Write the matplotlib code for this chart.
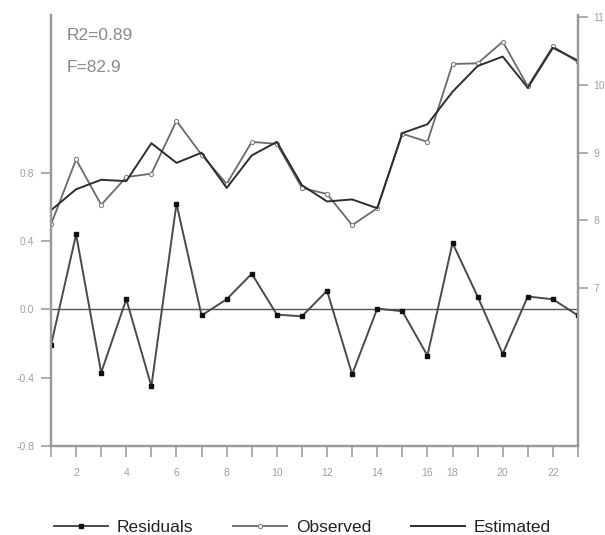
import numpy as np
import matplotlib
matplotlib.use('Agg')
import matplotlib.pyplot as plt

plt.rcParams['font.family'] = ['Liberation Sans', 'DejaVu Sans']

# observation numbers (17 is missing in the source)
obs_no = [1, 2, 3, 4, 5, 6, 7, 8, 9, 10, 11, 12, 13, 14, 15, 16, 18, 19, 20, 21, 22, 23]
residuals = [-0.21, 0.44, -0.37, 0.06, -0.45, 0.62, -0.035, 0.06, 0.21, -0.03, -0.04,
             0.11, -0.38, 0.005, -0.01, -0.27, 0.39, 0.076, -0.26, 0.076, 0.06, -0.035]
observed = [7.94, 8.90, 8.23, 8.64, 8.69, 9.47, 8.97, 8.54, 9.16, 9.13, 8.48,
            8.39, 7.93, 8.18, 9.28, 9.16, 10.31, 10.32, 10.64, 9.98, 10.57, 10.34]
estimated = [8.15, 8.46, 8.60, 8.58, 9.14, 8.85, 9.00, 8.48, 8.96, 9.16, 8.52,
             8.28, 8.31, 8.18, 9.29, 9.42, 9.90, 10.28, 10.42, 9.96, 10.55, 10.36]
left_ticks = [-0.8, -0.4, 0.0, 0.4, 0.8]
right_ticks = [7, 8, 9, 10, 11]
stats_text = ['R2=0.89', 'F=82.9']

spine_c = '#9a9a9a'
tick_c = '#a0a0a0'


def main():
    x = np.arange(len(obs_no))
    fig = plt.figure(figsize=(6.05, 5.35), dpi=100)
    ax = fig.add_axes([51 / 605, 1 - 446 / 535, (578 - 51) / 605, (446 - 15) / 535])
    ax2 = ax.twinx()

    # residuals on left axis
    ax.axhline(0, color='#555555', lw=1.0, zorder=1)
    l_res, = ax.plot(x, residuals, color='#4a4a4a', lw=1.4, marker='s', ms=2.6,
                     mfc='#111111', mec='#111111', label='Residuals', zorder=3)
    ax.set_xlim(0, len(obs_no) - 1)
    ax.set_ylim(-0.8, 1.726)
    ax.set_yticks(left_ticks)
    ax.set_yticklabels(['%.1f' % v for v in left_ticks])

    # observed / estimated on right axis
    l_obs, = ax2.plot(x, observed, color='#6a6a6a', lw=1.3, marker='o', ms=3,
                      mfc='white', mec='#808080', mew=0.8, label='Observed')
    l_est, = ax2.plot(x, estimated, color='#2e2e2e', lw=1.4, label='Estimated')
    ax2.set_ylim(4.668, 11.034)
    ax2.set_yticks(right_ticks)

    ax.set_xticks(x)
    ax.set_xticklabels([str(n) if n % 2 == 0 else '' for n in obs_no])

    for a in (ax, ax2):
        a.spines['top'].set_visible(False)
        for s in ('left', 'right', 'bottom'):
            a.spines[s].set_color(spine_c)
            a.spines[s].set_linewidth(1.6)
        a.tick_params(colors=tick_c, labelsize=7.5, width=1.2, length=7)
    ax.tick_params(axis='x', length=8, pad=8)
    ax.tick_params(axis='y', pad=5)
    ax2.tick_params(axis='y', pad=4)

    ax.text(0.03, 0.97, stats_text[0], transform=ax.transAxes, color='#8a8a8a',
            fontsize=12.5, va='top')
    ax.text(0.03, 0.895, stats_text[1], transform=ax.transAxes, color='#8a8a8a',
            fontsize=12.5, va='top')

    fig.legend(handles=[l_res, l_obs, l_est], loc='lower center', ncol=3,
               bbox_to_anchor=(0.5, -0.03), frameon=False, fontsize=12.5,
               handlelength=3.1, columnspacing=2.3, handletextpad=0.5,
               labelcolor='#222222')

    fig.savefig('out.png', dpi=100)


if __name__ == '__main__':
    main()
